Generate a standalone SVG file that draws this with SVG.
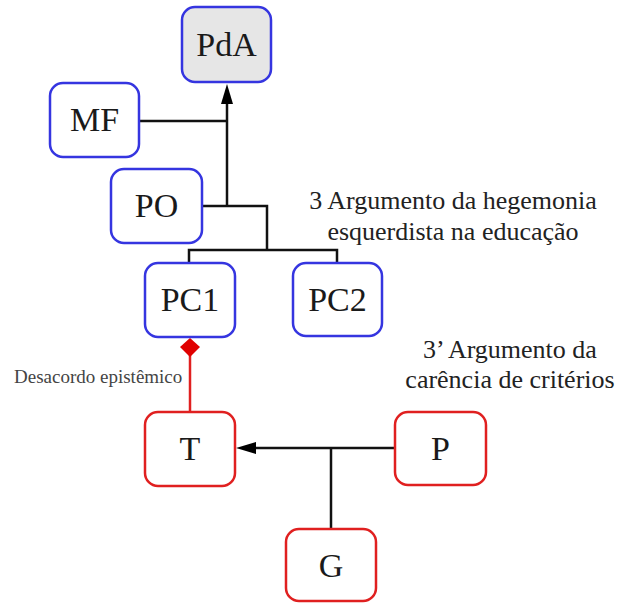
<svg xmlns="http://www.w3.org/2000/svg" width="618" height="603" viewBox="0 0 618 603">
<defs>
<style>
.blue{fill:#fff;stroke:#3535e0;stroke-width:2.5}
.red{fill:#fff;stroke:#e02020;stroke-width:2.5}
.lbl{font-family:"Liberation Serif",serif;font-size:34px;fill:#1a1a1a;text-anchor:middle}
.note{font-family:"Liberation Serif",serif;font-size:26px;fill:#222;text-anchor:middle}
.con{fill:none;stroke:#111;stroke-width:2.5}
</style>
<marker id="arr" viewBox="0 0 10 10" refX="10" refY="5" markerWidth="8" markerHeight="8" markerUnits="userSpaceOnUse" orient="auto">
<path d="M0,0 L10,5 L0,10 z" fill="#000"/>
</marker>
</defs>
<rect width="618" height="603" fill="#fff"/>
<g id="connectors">
<path class="con" d="M139,121 H227"/>
<path class="con" d="M202,206 H267 V250"/>
<path class="con" d="M227,206 V102"/>
<path d="M227,84 L221,104 L233,104 z" fill="#000"/>
<path class="con" d="M189,263 V250 H337 V263"/>
<path class="con" d="M395,448 H254"/>
<path d="M236,448 L256,442 L256,454 z" fill="#000"/>
<path class="con" d="M331,529 V448"/>
<path fill="none" stroke="#e02020" stroke-width="2.5" d="M190,412 V350"/>
<path d="M190,338 L200,347 L190,357 L180,347 z" fill="#e00000"/>
</g>
<g id="PdA"><rect class="blue" x="182" y="7" width="89" height="75" rx="13" style="fill:#e6e6e6"/><text class="lbl" x="226.5" y="56">PdA</text></g>
<g id="MF"><rect class="blue" x="50" y="83" width="89" height="74" rx="13"/><text class="lbl" x="94.5" y="131">MF</text></g>
<g id="PO"><rect class="blue" x="111" y="169" width="91" height="74" rx="13"/><text class="lbl" x="156.5" y="217">PO</text></g>
<g id="PC1"><rect class="blue" x="145" y="263" width="90" height="74" rx="13"/><text class="lbl" x="190" y="311">PC1</text></g>
<g id="PC2"><rect class="blue" x="293" y="263" width="89" height="73" rx="13"/><text class="lbl" x="337.5" y="311">PC2</text></g>
<g id="T"><rect class="red" x="145" y="412" width="90" height="74" rx="13"/><text class="lbl" x="190" y="460">T</text></g>
<g id="P"><rect class="red" x="395" y="412" width="91" height="73" rx="13"/><text class="lbl" x="440.5" y="460">P</text></g>
<g id="G"><rect class="red" x="286" y="529" width="90" height="72" rx="13"/><text class="lbl" x="331" y="577">G</text></g>
<g id="labels">
<text class="note" x="453" y="209">3 Argumento da hegemonia</text>
<text class="note" x="453" y="240">esquerdista na educação</text>
<text class="note" x="510" y="358">3’ Argumento da</text>
<text class="note" x="510" y="388">carência de critérios</text>
<text x="14" y="383" style="font-family:'Liberation Serif',serif;font-size:19px;fill:#444">Desacordo epistêmico</text>
</g>
</svg>
